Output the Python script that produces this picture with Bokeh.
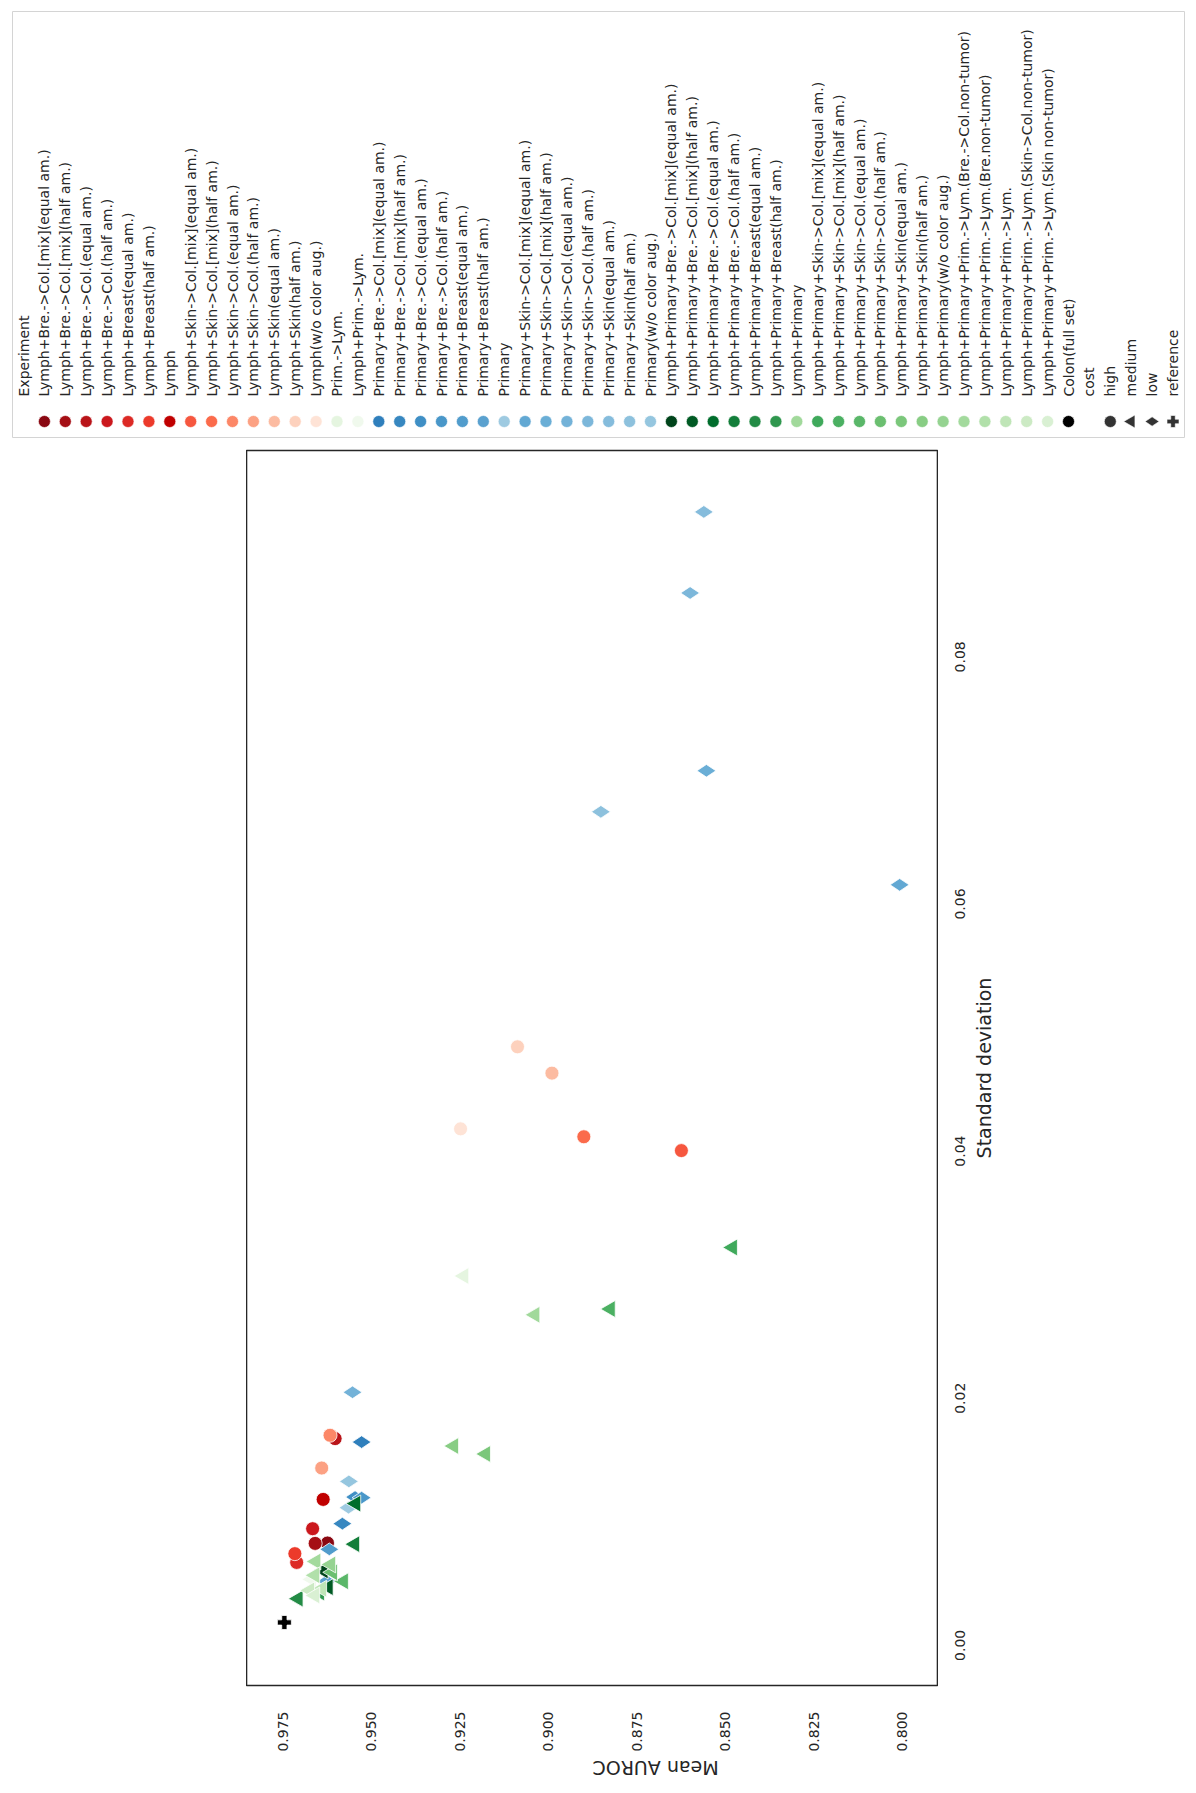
import math
from bokeh.plotting import figure
from bokeh.layouts import column, row
from bokeh.models import Range1d, FixedTicker, PrintfTickFormatter, ColumnDataSource, Spacer
from bokeh.core.properties import value
from bokeh.embed import file_html
from bokeh.resources import INLINE

experiments = [
    "Lymph+Bre.->Col.[mix](equal am.)",
    "Lymph+Bre.->Col.[mix](half am.)",
    "Lymph+Bre.->Col.(equal am.)",
    "Lymph+Bre.->Col.(half am.)",
    "Lymph+Breast(equal am.)",
    "Lymph+Breast(half am.)",
    "Lymph",
    "Lymph+Skin->Col.[mix](equal am.)",
    "Lymph+Skin->Col.[mix](half am.)",
    "Lymph+Skin->Col.(equal am.)",
    "Lymph+Skin->Col.(half am.)",
    "Lymph+Skin(equal am.)",
    "Lymph+Skin(half am.)",
    "Lymph(w/o color aug.)",
    "Prim.->Lym.",
    "Lymph+Prim.->Lym.",
    "Primary+Bre.->Col.[mix](equal am.)",
    "Primary+Bre.->Col.[mix](half am.)",
    "Primary+Bre.->Col.(equal am.)",
    "Primary+Bre.->Col.(half am.)",
    "Primary+Breast(equal am.)",
    "Primary+Breast(half am.)",
    "Primary",
    "Primary+Skin->Col.[mix](equal am.)",
    "Primary+Skin->Col.[mix](half am.)",
    "Primary+Skin->Col.(equal am.)",
    "Primary+Skin->Col.(half am.)",
    "Primary+Skin(equal am.)",
    "Primary+Skin(half am.)",
    "Primary(w/o color aug.)",
    "Lymph+Primary+Bre.->Col.[mix](equal am.)",
    "Lymph+Primary+Bre.->Col.[mix](half am.)",
    "Lymph+Primary+Bre.->Col.(equal am.)",
    "Lymph+Primary+Bre.->Col.(half am.)",
    "Lymph+Primary+Breast(equal am.)",
    "Lymph+Primary+Breast(half am.)",
    "Lymph+Primary",
    "Lymph+Primary+Skin->Col.[mix](equal am.)",
    "Lymph+Primary+Skin->Col.[mix](half am.)",
    "Lymph+Primary+Skin->Col.(equal am.)",
    "Lymph+Primary+Skin->Col.(half am.)",
    "Lymph+Primary+Skin(equal am.)",
    "Lymph+Primary+Skin(half am.)",
    "Lymph+Primary(w/o color aug.)",
    "Lymph+Primary+Prim.->Lym.(Bre.->Col.non-tumor)",
    "Lymph+Primary+Prim.->Lym.(Bre.non-tumor)",
    "Lymph+Primary+Prim.->Lym.",
    "Lymph+Primary+Prim.->Lym.(Skin->Col.non-tumor)",
    "Lymph+Primary+Prim.->Lym.(Skin non-tumor)",
    "Colon(full set)",
]

colors = [
    "#8a0812", "#a50f15", "#b91419", "#cb181d", "#dc2a25", "#ec3a2b", "#c00000",
    "#f6573f", "#fb6b4b", "#fc8767", "#fca183", "#fcbba1", "#fdd1bd", "#fee3d6",
    "#e5f5e0", "#f0f9ed",
    "#2f7fbc", "#3787c0", "#3f8fc5", "#4997c9", "#519ccc", "#5aa1cf", "#9ecae1",
    "#62a8d3", "#6aaed6", "#73b2d8", "#7cb7da", "#85bcdc", "#8dc1dd", "#95c6df",
    "#00441b", "#005a24", "#006d2c", "#137e3a", "#238b45", "#2f974e", "#a1d99b",
    "#3fa95b", "#4bb062", "#5ab769", "#6bbf70", "#7bc77b", "#88cd84", "#95d391",
    "#a3da9d", "#b1e0aa", "#bfe5b7", "#cceac4", "#d9f0d3",
    "#000000",
]

costs = (["high"] * 14 + ["medium"] * 2 + ["low"] * 14 + ["medium"] * 19 + ["reference"])

mean_auroc = [
    0.96244, 0.96593, 0.96029, 0.96665, 0.97116, 0.97167, 0.96367,
    0.86236, 0.88995, 0.96172, 0.96408, 0.89897, 0.90871, 0.92481,
    0.92389, 0.96695,
    0.95280, 0.95824, 0.95465, 0.95280, 0.96193, 0.96265, 0.95650,
    0.80064, 0.85529, 0.95537, 0.85990, 0.85601, 0.88513, 0.95639,
    0.96367, 0.96224, 0.95444, 0.95475, 0.97075, 0.96470, 0.90379,
    0.84791, 0.88246, 0.95793, 0.96101, 0.91774, 0.92676, 0.96152,
    0.96572, 0.96603, 0.96408, 0.96747, 0.96603,
    0.97464,
]

std_dev = [
    0.00828, 0.00825, 0.01673, 0.00944, 0.00671, 0.00742, 0.01181,
    0.04004, 0.04116, 0.01700, 0.01435, 0.04631, 0.04844, 0.04180,
    0.02989, 0.00534,
    0.01645, 0.00985, 0.01200, 0.01195, 0.00777, 0.00518, 0.01114,
    0.06155, 0.07078, 0.02048, 0.08517, 0.09173, 0.06746, 0.01327,
    0.00606, 0.00471, 0.01147, 0.00819, 0.00378, 0.00428, 0.02675,
    0.03220, 0.02722, 0.00518, 0.00591, 0.01549, 0.01613, 0.00655,
    0.00679, 0.00567, 0.00458, 0.00445, 0.00404,
    0.00185,
]

auroc_ticks = [0.800, 0.825, 0.850, 0.875, 0.900, 0.925, 0.950, 0.975]
std_ticks = [0.00, 0.02, 0.04, 0.06, 0.08]
std_tick_labels = ["0.00", "0.02", "0.04", "0.06", "0.08"]
cost_levels = ["high", "medium", "low", "reference"]
legend_titles = ["Experiment", "cost"]
x_label = "Mean AUROC"
y_label = "Standard deviation"

TEXT = "#262626"
FONT = "DejaVu Sans"
marker_of = {"high": "circle", "medium": "triangle", "low": "diamond", "reference": "plus"}
angle_of = {"high": 0.0, "medium": math.pi / 2, "low": math.pi / 2, "reference": 0.0}
size_of = {"high": 14, "medium": 17, "low": 19, "reference": 14}
leg_size_of = {"high": 12, "medium": 13, "low": 14, "reference": 12}

# ---------------- geometry (page pixels) ----------------
LEG_H = 444
LEG_W = 1188
FRAME_L, FRAME_R = 246, 938
FRAME_T, FRAME_B = 450, 1692
BORDER_T = FRAME_T - LEG_H
BORDER_B = 100
MAIN_H = BORDER_T + (FRAME_B - FRAME_T) + BORDER_B
STRIP_W = 1180 - FRAME_R


def ly(page_y):
    return LEG_H - page_y


# ---------------- legend (drawn rotated, as in the reference) ----------------
leg = figure(width=LEG_W, height=LEG_H, x_range=Range1d(0, LEG_W), y_range=Range1d(0, LEG_H),
             output_backend="svg", toolbar_location=None,
             x_axis_location=None, y_axis_location=None, min_border=0)
leg.grid.visible = False
leg.outline_line_color = None
leg.quad(left=12, right=1184, bottom=ly(437), top=ly(11), fill_color="white",
         line_color="#d4d4d4", line_width=1)

leg_labels = [legend_titles[0]] + experiments + [legend_titles[1]] + cost_levels
step = 20.9
leg_x = [23 + i * step for i in range(len(leg_labels))]
leg.text(x=leg_x, y=[ly(396)] * len(leg_labels), text=leg_labels, angle=math.pi / 2,
         text_align="left", text_baseline="middle", text_font=value(FONT),
         text_font_size="14px", text_color=TEXT)

mk_x, mk_marker, mk_color, mk_angle, mk_size = [], [], [], [], []
for i, e in enumerate(experiments):
    mk_x.append(leg_x[1 + i])
    mk_marker.append("circle")
    mk_color.append(colors[i])
    mk_angle.append(0.0)
    mk_size.append(12)
base = 2 + len(experiments)
for j, c in enumerate(cost_levels):
    mk_x.append(leg_x[base + j])
    mk_marker.append(marker_of[c])
    mk_color.append("#333333")
    mk_angle.append(angle_of[c])
    mk_size.append(leg_size_of[c])
leg_src = ColumnDataSource(dict(x=mk_x, y=[ly(421)] * len(mk_x), marker=mk_marker,
                                color=mk_color, angle=mk_angle, size=mk_size))
leg.scatter(x="x", y="y", source=leg_src, marker="marker", size="size", angle="angle",
            fill_color="color", line_color="white", line_width=0.6)

# ---------------- main scatter ----------------
yr = Range1d(-0.00325, 0.0967)
main = figure(width=FRAME_R - FRAME_L, height=MAIN_H, x_range=Range1d(0.98535, 0.78965),
              y_range=yr, output_backend="svg", toolbar_location=None,
              y_axis_location=None, min_border_left=0, min_border_right=0,
              min_border_top=BORDER_T, min_border_bottom=BORDER_B)
main.grid.visible = False
main.outline_line_color = TEXT
main.outline_line_width = 1.6
main.outline_line_alpha = 1.0
ax = main.xaxis[0]
ax.ticker = FixedTicker(ticks=auroc_ticks)
ax.formatter = PrintfTickFormatter(format="%.3f")
ax.major_tick_line_color = None
ax.minor_tick_line_color = None
ax.axis_line_color = None
ax.major_label_text_font = FONT
ax.major_label_text_font_size = "14px"
ax.major_label_text_color = TEXT
ax.major_label_orientation = math.pi / 2
ax.major_label_standoff = 20
ax.axis_label = x_label
ax.axis_label_text_font = FONT
ax.axis_label_text_font_size = "19px"
ax.axis_label_text_font_style = "normal"
ax.axis_label_text_color = TEXT
ax.axis_label_standoff = 13
try:
    ax.axis_label_orientation = math.pi
except Exception:
    pass

src = ColumnDataSource(dict(
    x=mean_auroc, y=std_dev, color=colors,
    marker=[marker_of[c] for c in costs],
    angle=[angle_of[c] for c in costs],
    size=[size_of[c] for c in costs],
))
main.scatter(x="x", y="y", source=src, marker="marker", size="size", angle="angle",
             fill_color="color", line_color="white", line_width=0.8)

# ---------------- right strip: std-axis tick labels and title (shares the y scale) ----
strip = figure(width=STRIP_W, height=MAIN_H, x_range=Range1d(0, STRIP_W), y_range=yr,
               output_backend="svg", toolbar_location=None,
               x_axis_location=None, y_axis_location=None, min_border_left=0,
               min_border_right=0, min_border_top=BORDER_T, min_border_bottom=BORDER_B)
strip.grid.visible = False
strip.outline_line_color = None
strip.text(x=[21] * len(std_ticks), y=std_ticks, text=std_tick_labels, angle=math.pi / 2,
           text_align="center", text_baseline="middle", text_font=value(FONT),
           text_font_size="14px", text_color=TEXT)
strip.text(x=[45], y=[(yr.start + yr.end) / 2], text=[y_label], angle=math.pi / 2,
           text_align="center", text_baseline="middle", text_font=value(FONT),
           text_font_size="19px", text_color=TEXT)

layout = column(leg, row(Spacer(width=FRAME_L, height=MAIN_H), main, strip))
open("out.html", "w").write(file_html(layout, INLINE))
